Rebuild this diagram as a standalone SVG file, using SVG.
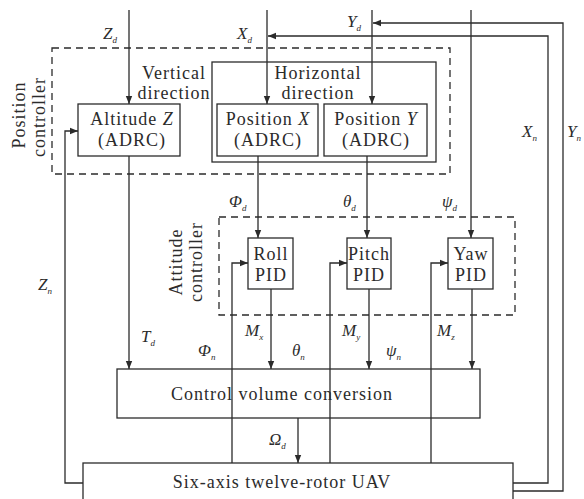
<svg xmlns="http://www.w3.org/2000/svg" width="584" height="499" viewBox="0 0 584 499">
<defs>
<marker id="ah" viewBox="0 0 8 8" refX="8" refY="4" markerWidth="8" markerHeight="8" markerUnits="userSpaceOnUse" orient="auto">
<path d="M0,0.8 L8,4 L0,7.2 Z" fill="#2b2b2b"/>
</marker>
<style>
.box{fill:none;stroke:#2b2b2b;stroke-width:1.3}
.dash{fill:none;stroke:#2b2b2b;stroke-width:1.3;stroke-dasharray:7 5}
.ln{fill:none;stroke:#2b2b2b;stroke-width:1.3}
.arr{fill:none;stroke:#2b2b2b;stroke-width:1.3;marker-end:url(#ah)}
.t{font-family:"Liberation Serif","Times New Roman",serif;font-size:18px;fill:#2b2b2b;letter-spacing:1px;text-anchor:middle}
.m{font-family:"Liberation Serif","Times New Roman",serif;font-style:italic;font-size:17px;fill:#2b2b2b}
.s{font-size:9px}
</style>
</defs>
<rect width="584" height="499" fill="#ffffff"/>

<g id="position-controller">
<rect class="dash" x="52" y="48" width="398" height="126"/>
<text class="t" transform="translate(25,115) rotate(-90)">Position</text>
<text class="t" transform="translate(45,117) rotate(-90)">controller</text>
</g>
<g id="vertical-label">
<text class="t" x="174" y="79">Vertical</text>
<text class="t" x="174" y="99">direction</text>
</g>
<g id="horizontal-direction">
<rect class="box" x="212" y="62" width="224" height="100"/>
<text class="t" x="318" y="79">Horizontal</text>
<text class="t" x="318" y="99">direction</text>
</g>
<g id="altitude-z">
<rect class="box" x="78" y="104" width="102" height="52"/>
<text class="t" x="132" y="125">Altitude <tspan font-style="italic">Z</tspan></text>
<text class="t" x="132" y="146">(ADRC)</text>
</g>
<g id="position-x">
<rect class="box" x="217" y="104" width="101" height="52"/>
<text class="t" x="268" y="125">Position <tspan font-style="italic">X</tspan></text>
<text class="t" x="268" y="146">(ADRC)</text>
</g>
<g id="position-y">
<rect class="box" x="324" y="104" width="103" height="52"/>
<text class="t" x="376" y="125">Position <tspan font-style="italic">Y</tspan></text>
<text class="t" x="376" y="146">(ADRC)</text>
</g>

<g id="attitude-controller">
<rect class="dash" x="219" y="217" width="296" height="98"/>
<text class="t" transform="translate(182,262) rotate(-90)">Attitude</text>
<text class="t" transform="translate(202,262) rotate(-90)">controller</text>
</g>
<g id="roll-pid">
<rect class="box" x="248" y="238" width="45" height="51"/>
<text class="t" x="271" y="260">Roll</text>
<text class="t" x="271" y="281">PID</text>
</g>
<g id="pitch-pid">
<rect class="box" x="347" y="238" width="44" height="51"/>
<text class="t" x="369" y="260" letter-spacing="0">Pitch</text>
<text class="t" x="369" y="281">PID</text>
</g>
<g id="yaw-pid">
<rect class="box" x="448" y="238" width="45" height="51"/>
<text class="t" x="471" y="260">Yaw</text>
<text class="t" x="471" y="281">PID</text>
</g>

<g id="control-volume-conversion">
<rect class="box" x="117" y="369" width="363" height="49"/>
<text class="t" x="282" y="400">Control volume conversion</text>
</g>
<g id="uav">
<rect class="box" x="83" y="463" width="430" height="40"/>
<text class="t" x="282" y="488">Six-axis twelve-rotor UAV</text>
</g>

<g id="connectors">
<path class="arr" d="M129,10 V104"/>
<path class="arr" d="M267,10 V104"/>
<path class="arr" d="M372,10 V104"/>
<path class="arr" d="M471,10 V238"/>
<path class="arr" d="M258,156 V238"/>
<path class="arr" d="M367,156 V238"/>
<path class="arr" d="M129,156 V369"/>
<path class="arr" d="M271,289 V369"/>
<path class="arr" d="M369,289 V369"/>
<path class="arr" d="M472,289 V369"/>
<path class="arr" d="M298,418 V463"/>
<path class="arr" d="M232,463 V263 H248"/>
<path class="arr" d="M330,463 V263 H347"/>
<path class="arr" d="M431,463 V263 H448"/>
<path class="arr" d="M83,483 H65 V131 H78"/>
<path class="arr" d="M513,483 H548 V36 H268"/>
<path class="arr" d="M513,491 H563 V23 H373"/>
</g>

<g id="labels">
<text class="m" x="103" y="39">Z<tspan class="s" dy="4">d</tspan></text>
<text class="m" x="237" y="39">X<tspan class="s" dy="4">d</tspan></text>
<text class="m" x="347" y="27">Y<tspan class="s" dy="4">d</tspan></text>
<text class="m" x="522" y="137">X<tspan class="s" dy="4">n</tspan></text>
<text class="m" x="567" y="137">Y<tspan class="s" dy="4">n</tspan></text>
<text class="m" x="38" y="290">Z<tspan class="s" dy="4">n</tspan></text>
<text class="m" x="229" y="207">Φ<tspan class="s" dy="4">d</tspan></text>
<text class="m" x="343" y="207">θ<tspan class="s" dy="4">d</tspan></text>
<text class="m" x="442" y="207">ψ<tspan class="s" dy="4">d</tspan></text>
<text class="m" x="141" y="342">T<tspan class="s" dy="4">d</tspan></text>
<text class="m" x="198" y="356">Φ<tspan class="s" dy="4">n</tspan></text>
<text class="m" x="292" y="356">θ<tspan class="s" dy="4">n</tspan></text>
<text class="m" x="386" y="356">ψ<tspan class="s" dy="4">n</tspan></text>
<text class="m" x="245" y="336">M<tspan class="s" dy="4">x</tspan></text>
<text class="m" x="342" y="336">M<tspan class="s" dy="4">y</tspan></text>
<text class="m" x="437" y="336">M<tspan class="s" dy="4">z</tspan></text>
<text class="m" x="269" y="445">Ω<tspan class="s" dy="4">d</tspan></text>
</g>
</svg>
